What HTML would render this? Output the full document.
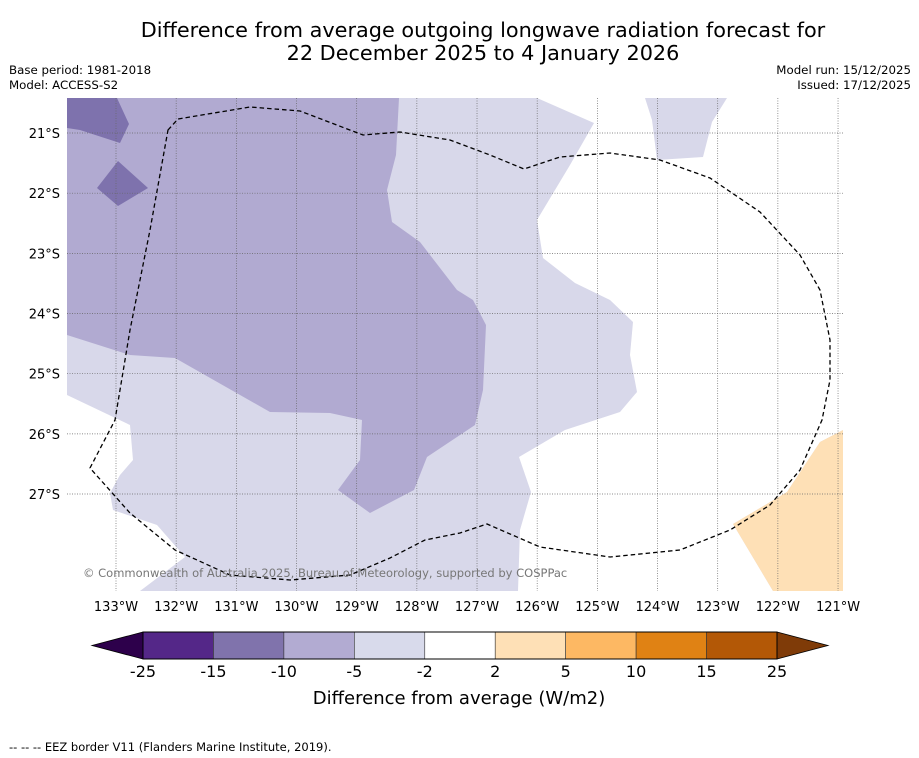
<!DOCTYPE html>
<html><head><meta charset="utf-8"><style>
body{margin:0;background:#fff;font-family:"Liberation Sans","DejaVu Sans",sans-serif;}
#wrap{position:relative;width:919px;height:758px;overflow:hidden;background:#fff}
.t{position:absolute;white-space:nowrap}
</style></head><body>
<div id="wrap">
<div class="t" style="left:0;width:966px;text-align:center;top:19px;font-size:20.8px;line-height:23px;font-family:'DejaVu Sans',sans-serif">Difference from average outgoing longwave radiation forecast for<br>22 December 2025 to 4 January 2026</div>
<div class="t" style="left:9px;top:63px;font-size:11.8px;line-height:15px;font-family:'DejaVu Sans',sans-serif">Base period: 1981-2018<br>Model: ACCESS-S2</div>
<div class="t" style="right:8px;top:63px;font-size:11.8px;line-height:15px;text-align:right;font-family:'DejaVu Sans',sans-serif">Model run: 15/12/2025<br>Issued: 17/12/2025</div>
<svg id="svg" width="919" height="758" style="position:absolute;left:0;top:0" font-family="DejaVu Sans, sans-serif">
<g>
<rect x="67" y="98" width="776" height="493" fill="#d8d8ea"/>
<polygon fill="#ffffff" points="537,98 645,98 652,120 657,160 703,157 712,122 727,98 843,98 843,430 820,442 787,492 733,524 773,591 518,591 520,530 531,492 519,457 565,430 620,412 637,392 630,355 633,322 610,300 575,283 543,258 537,220 570,165 594,123"/>
<polygon fill="#ffffff" points="67,395 130,425 133,460 120,475 110,493 113,510 157,525 185,557 140,591 67,591"/>
<polygon fill="#fee0b6" points="843,430 820,442 787,492 733,524 773,591 843,591"/>
<polygon fill="#b1aad1" points="67,98 399,98 396,155 387,190 392,222 420,242 457,290 473,300 486,325 483,390 475,425 427,457 414,490 370,513 338,490 360,460 362,420 330,413 270,412 175,358 130,355 67,335"/>
<polygon fill="#7e72ad" points="67,98 117,98 129,124 120,143 80,130 67,128"/>
<polygon fill="#7e72ad" points="97,188 118,161 148,188 118,206"/>
<g id="grid"></g>
<path fill="none" stroke="#000" stroke-width="1.3" stroke-dasharray="4.5,3" d="M168,130 L178,119 L250,107 L300,111 L363,135 L400,132 L450,140 L490,155 L524,169 L560,157 L610,153 L660,160 L710,178 L760,212 L800,255 L820,290 L830,340 L830,380 L822,420 L800,470 L770,505 L730,530 L680,550 L610,557 L540,547 L487,524 L460,533 L425,540 L390,558 L350,575 L290,580 L230,575 L175,550 L130,513 L90,468 L115,420 L130,330 L150,230 Z"/>
<text x="83" y="577" font-size="11.5" fill="#777">© Commonwealth of Australia 2025, Bureau of Meteorology, supported by COSPPac</text>
</g>
<g id="ticks"></g>
<g id="cbar"></g>
<text x="459" y="704" font-size="18" text-anchor="middle">Difference from average (W/m2)</text>
<text x="9" y="751" font-size="11.5">--  --  -- EEZ border V11 (Flanders Marine Institute, 2019).</text>
</svg>
</div>
<script>
const lonTicks=[133,132,131,130,129,128,127,126,125,124,123,122,121];
const latTicks=[21,22,23,24,25,26,27];
const levels=[-25,-15,-10,-5,-2,2,5,10,15,25];
const levelColors=["#542788","#8073ac","#b2abd2","#d8daeb","#ffffff","#fee0b6","#fdb863","#e08214","#b35806"];
const extendColors=["#2d004b","#7f3b08"];
const NS="http://www.w3.org/2000/svg";
function xLon(l){return 116+(133-l)*60.17;}
function yLat(l){return 133+(l-21)*60.17;}
function mk(t,a,p){const e=document.createElementNS(NS,t);for(const k in a)e.setAttribute(k,a[k]);p.appendChild(e);return e;}
const grid=document.getElementById('grid'),ticks=document.getElementById('ticks'),cb=document.getElementById('cbar');
lonTicks.forEach(l=>{const x=xLon(l);
const ln=mk('line',{x1:x,x2:x,y1:98,y2:591,stroke:'#666','stroke-width':0.7,'stroke-dasharray':'1,1.5'},grid);


const t=mk('text',{x:x,y:611,'font-size':13,'text-anchor':'middle'},ticks);t.textContent=l+'°W';

});
latTicks.forEach(l=>{const y=yLat(l);
const ln=mk('line',{x1:67,x2:843,y1:y,y2:y,stroke:'#666','stroke-width':0.7,'stroke-dasharray':'1,1.5'},grid);


const t=mk('text',{x:60,y:y+5,'font-size':13,'text-anchor':'end'},ticks);t.textContent=l+'°S';

});
const cx0=143,cx1=777,cy0=632,cy1=659,n=levelColors.length,w=(cx1-cx0)/n;
const le=mk('polygon',{points:`${cx0},${cy0} ${cx0},${cy1} 92,${(cy0+cy1)/2}`,fill:extendColors[0],stroke:'#000','stroke-width':0.8},cb);


const re=mk('polygon',{points:`${cx1},${cy0} ${cx1},${cy1} 828,${(cy0+cy1)/2}`,fill:extendColors[1],stroke:'#000','stroke-width':0.8},cb);


levelColors.forEach((c,i)=>{const r=mk('rect',{x:cx0+i*w,y:cy0,width:w,height:cy1-cy0,fill:c,stroke:'#333','stroke-width':0.6},cb);

});
mk('rect',{x:cx0,y:cy0,width:cx1-cx0,height:cy1-cy0,fill:'none',stroke:'#000','stroke-width':1},cb);
levels.forEach((v,i)=>{const t=mk('text',{x:cx0+i*w,y:677,'font-size':16,'text-anchor':'middle'},cb);t.textContent=v;

});
</script>
</body></html>
